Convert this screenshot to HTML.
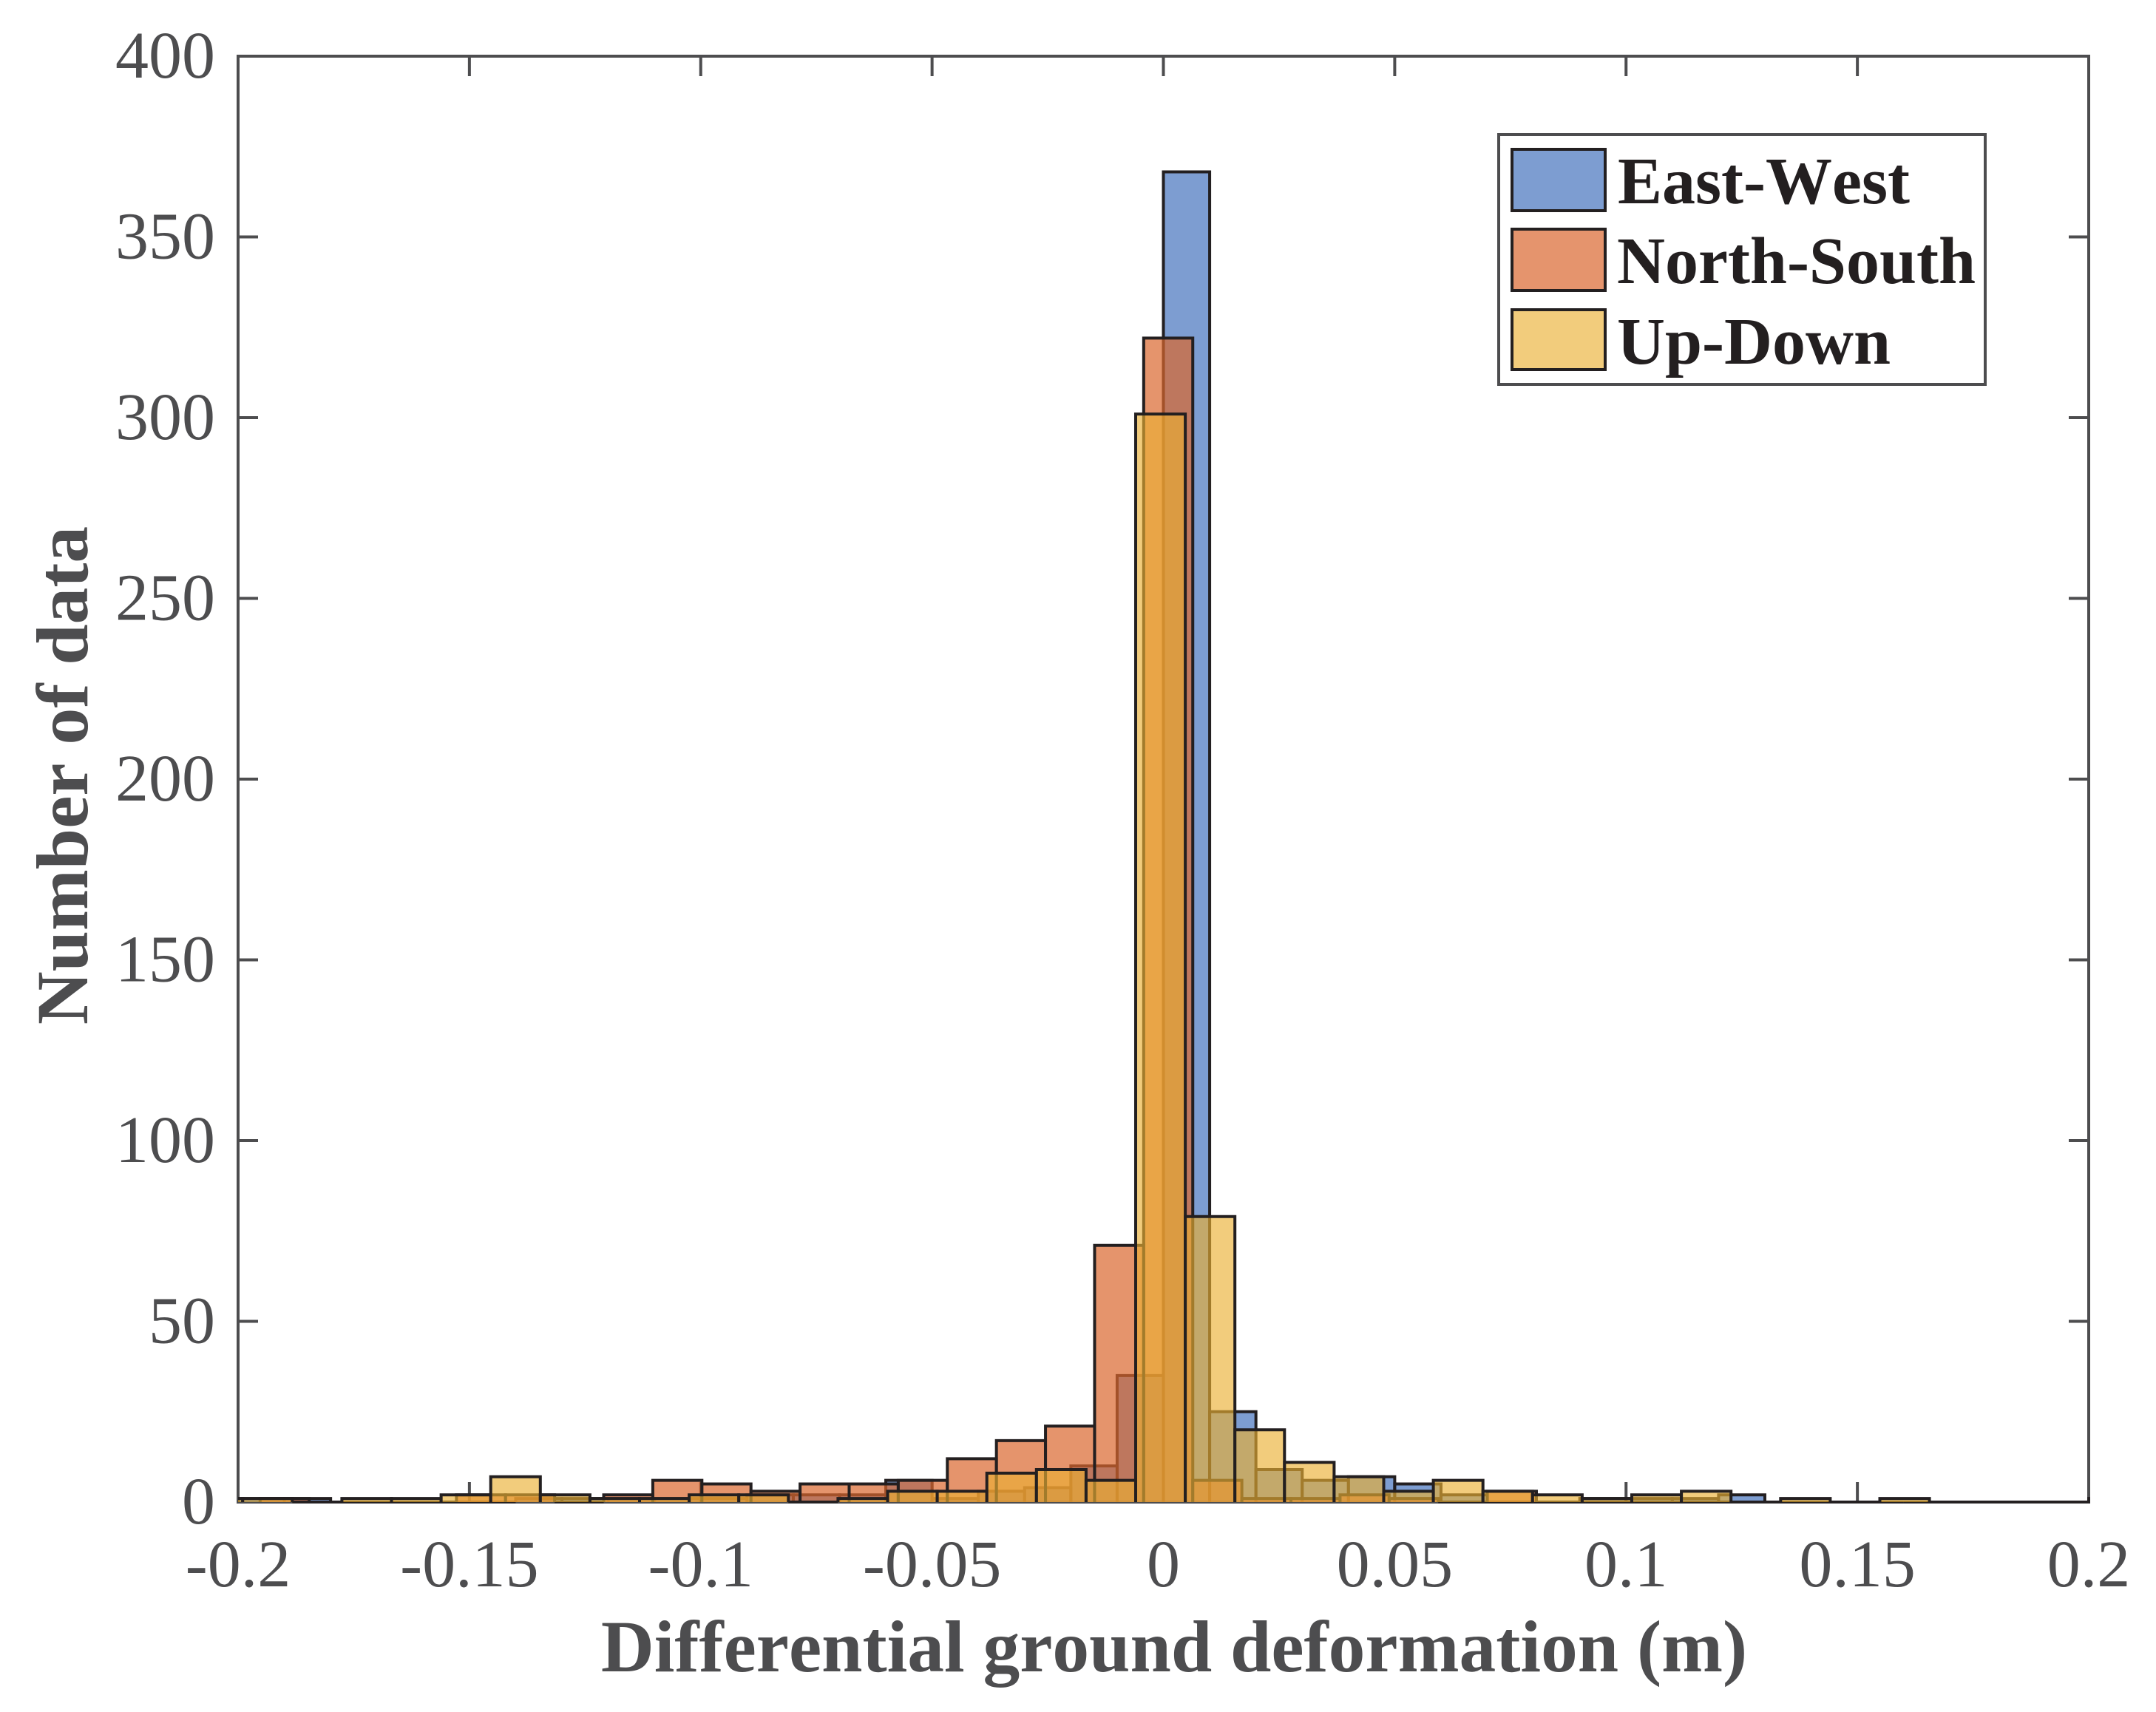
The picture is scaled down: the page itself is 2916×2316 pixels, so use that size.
<!DOCTYPE html>
<html lang="en">
<head>
<meta charset="utf-8">
<title>Differential ground deformation histogram</title>
<style>
html,body{margin:0;padding:0;background:#fff;}
svg{display:block;}
text{font-family:"Liberation Serif",serif;font-kerning:none;}
.tick-label{font-size:90px;fill:#4d4d4f;}
.axis-title{font-size:99.5px;font-weight:bold;fill:#4d4d4f;}
.legend-text{font-size:90px;font-weight:bold;fill:#231f20;}
</style>
</head>
<body>
<svg id="chart" xmlns="http://www.w3.org/2000/svg" width="2916" height="2316" viewBox="0 0 2916 2316">
  <defs>
    <clipPath id="plot-clip"><rect x="322" y="74" width="2505" height="1959.5"></rect></clipPath>
  </defs>
  <rect x="0" y="0" width="2916" height="2316" fill="#ffffff"></rect>
  <g id="axes-ticks"></g>
  <g id="bars" clip-path="url(#plot-clip)"></g>
  <g id="tick-labels"></g>
  <text class="axis-title" x="1588" y="2261" text-anchor="middle">Differential ground deformation (m)</text>
  <text class="axis-title" x="0" y="0" text-anchor="middle" transform="translate(118 1049) rotate(-90)">Number of data</text>
  <g>
    <rect x="2027" y="182" width="658" height="338" fill="#ffffff" stroke="#4d4d4f" stroke-width="4"></rect>
    <rect x="2045" y="202" width="126" height="83" fill="#7d9dd1" stroke="#231f20" stroke-width="4"></rect>
    <text class="legend-text" x="2188" y="275">East-West</text>
    <rect x="2045" y="310" width="126" height="83" fill="#e5946d" stroke="#231f20" stroke-width="4"></rect>
    <text class="legend-text" x="2187" y="383">North-South</text>
    <rect x="2045" y="419" width="126" height="81" fill="#f2cc7c" stroke="#231f20" stroke-width="4"></rect>
    <text class="legend-text" x="2187" y="492">Up-Down</text>
  </g>
</svg>
<script>
const xTicks = [-0.2, -0.15, -0.1, -0.05, 0, 0.05, 0.1, 0.15, 0.2];
const xTickLabels = ["-0.2", "-0.15", "-0.1", "-0.05", "0", "0.05", "0.1", "0.15", "0.2"];
const yTicks = [0, 50, 100, 150, 200, 250, 300, 350, 400];
const yTickLabels = ["0", "50", "100", "150", "200", "250", "300", "350", "400"];

const eastWestFirstEdge = -0.2;
const eastWestBinWidth = 0.01;
const eastWestCounts = [1,1,0,0,0,0,1,1,1,1,1,2,2,2,6,1,3,4,10,35,368,25,9,6,7,5,2,0,0,1,1,1,2,0,0,0,0,0,0,0,1];

const northSouthFirstEdge = -0.19524;
const northSouthBinWidth = 0.01061;
const northSouthCounts = [1,0,0,0,2,2,0,2,6,5,3,5,5,6,12,17,21,71,322,6,1,1,2,1,0,3,0,0,0,0,0];

const upDownFirstEdge = -0.20973;
const upDownBinWidth = 0.010723;
const upDownCounts = [1,1,0,1,1,2,7,2,1,1,2,2,0,1,3,3,8,9,6,301,79,20,11,7,3,6,3,2,1,2,3,0,1,0,1,0,0,0,0];

const NS = 'http://www.w3.org/2000/svg';
const plotLeft = 322, plotRight = 2825, plotTop = 76, plotBottom = 2032;
const xMin = -0.2, xMax = 0.2, yMin = 0, yMax = 400;
function xScale(v){ return plotLeft + (v - xMin) / (xMax - xMin) * (plotRight - plotLeft); }
function yScale(v){ return plotBottom - (v - yMin) / (yMax - yMin) * (plotBottom - plotTop); }

const ticksGroup = document.getElementById('axes-ticks');
const labelsGroup = document.getElementById('tick-labels');
const barsGroup = document.getElementById('bars');
const axisColor = '#4d4d4f';

function addLine(x1, y1, x2, y2, width){
  const l = document.createElementNS(NS, 'line');
  l.setAttribute('x1', x1);
  l.setAttribute('y1', y1);
  l.setAttribute('x2', x2);
  l.setAttribute('y2', y2);
  l.setAttribute('stroke', axisColor);
  l.setAttribute('stroke-width', width);
  ticksGroup.appendChild(l);
  return l;
}

const frameLeft = addLine(plotLeft, plotTop - 2, plotLeft, plotBottom + 2, 4);


const frameRight = addLine(plotRight, plotTop - 2, plotRight, plotBottom + 2, 4);


const frameTop = addLine(plotLeft - 2, plotTop, plotRight + 2, plotTop, 4);


const frameBottom = addLine(plotLeft - 2, plotBottom, plotRight + 2, plotBottom, 4);



const tickLength = 27;
xTicks.forEach(function(t, i){
  const px = xScale(t);
  const bottomTick = addLine(px, plotBottom, px, plotBottom - tickLength, 4);
  
  
  const topTick = addLine(px, plotTop, px, plotTop + tickLength, 4);
  
  
  const label = document.createElementNS(NS, 'text');
  label.setAttribute('class', 'tick-label');
  
  
  label.setAttribute('x', px);
  label.setAttribute('y', 2146);
  label.setAttribute('text-anchor', 'middle');
  label.textContent = xTickLabels[i];
  labelsGroup.appendChild(label);
});
yTicks.forEach(function(t, i){
  const py = yScale(t);
  const leftTick = addLine(plotLeft, py, plotLeft + tickLength, py, 4);
  
  
  const rightTick = addLine(plotRight, py, plotRight - tickLength, py, 4);
  
  
  const label = document.createElementNS(NS, 'text');
  label.setAttribute('class', 'tick-label');
  
  
  label.setAttribute('x', 291);
  label.setAttribute('y', py + 29);
  label.setAttribute('text-anchor', 'end');
  label.textContent = yTickLabels[i];
  labelsGroup.appendChild(label);
});

function drawSeries(firstEdge, binWidth, counts, fill, opacity, seriesName){
  const g = document.createElementNS(NS, 'g');
  
  
  counts.forEach(function(c, i){
    const x0 = xScale(firstEdge + i * binWidth);
    const x1 = xScale(firstEdge + (i + 1) * binWidth);
    const y0 = yScale(0);
    const y1 = yScale(c);
    const p = document.createElementNS(NS, 'path');
    p.setAttribute('d', 'M' + x0 + ' ' + y0 + 'L' + x0 + ' ' + y1 + 'L' + x1 + ' ' + y1 + 'L' + x1 + ' ' + y0);
    p.setAttribute('fill', fill);
    p.setAttribute('fill-opacity', opacity);
    p.setAttribute('stroke', '#231f20');
    p.setAttribute('stroke-width', 4);
    p.setAttribute('stroke-linejoin', 'miter');
    
    
    g.appendChild(p);
  });
  barsGroup.appendChild(g);
}

drawSeries(eastWestFirstEdge, eastWestBinWidth, eastWestCounts, 'rgb(55,104,184)', 0.65, 'series-east-west');
drawSeries(northSouthFirstEdge, northSouthBinWidth, northSouthCounts, 'rgb(218,102,46)', 0.7, 'series-north-south');
drawSeries(upDownFirstEdge, upDownBinWidth, upDownCounts, 'rgb(235,175,50)', 0.64, 'series-up-down');
</script>
</body>
</html>
